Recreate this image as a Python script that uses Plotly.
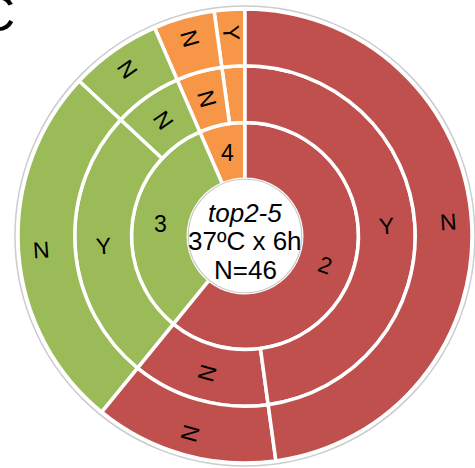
import math
import plotly.graph_objects as go

# ---- data (listed clockwise from 12 o'clock) ----
groups = ["2", "3", "4"]
group_counts = [28, 15, 3]
group_colors = ["#C0504D", "#9BBB59", "#F79646"]

# middle ring (per group): labels and counts
mid_labels = [["Y", "N"], ["Y", "N"], ["N", "Y"]]
mid_counts = [[22, 6], [12, 3], [2, 1]]
mid_show = [[True, True], [True, True], [True, False]]

# outer ring (one child per middle segment)
outer_labels = [["N", "N"], ["N", "N"], ["N", "Y"]]
outer_counts = [[22, 6], [12, 3], [2, 1]]

center_lines = ["<i>top2-5</i>", "37ºC x 6h", "N=46"]
total = sum(group_counts)

# ---- style ----
inner_label_radial = [True, False, False]   # "2" follows the radius, "3"/"4" stay upright
FONT = "Liberation Sans, Arial"
W, H = 475, 468
cx, cy, R = 245, 236, 227
ring_w = R / 4
label_r = [1.5 * ring_w, 2.5 * ring_w, 3.6 * ring_w]

# ---- build hierarchy (plotly lays sectors out counter-clockwise, so reverse) ----
ids, labels, parents, values, colors = [], [], [], [], []
ids.append("root"); labels.append(""); parents.append(""); values.append(total)
colors.append("white")
order = list(range(len(groups)))[::-1]
for gi in order:
    g = groups[gi]
    ids.append(g); labels.append(g); parents.append("root"); values.append(group_counts[gi])
    colors.append(group_colors[gi])
for gi in order:
    g = groups[gi]
    for mi in range(len(mid_labels[gi]))[::-1]:
        mid_id = f"{g}-{mi}"
        ids.append(mid_id); labels.append(mid_labels[gi][mi]); parents.append(g)
        values.append(mid_counts[gi][mi]); colors.append(group_colors[gi])
        ids.append(mid_id + "-o"); labels.append(outer_labels[gi][mi]); parents.append(mid_id)
        values.append(outer_counts[gi][mi]); colors.append(group_colors[gi])

dom_x = [(cx - R) / W, (cx + R) / W]
dom_y = [(H - cy - R) / H, (H - cy + R) / H]

fig = go.Figure(go.Sunburst(
    ids=ids, labels=labels, parents=parents, values=values,
    branchvalues="total", sort=False, rotation=90,
    textinfo="none",
    marker=dict(colors=colors, line=dict(color="white", width=3.5)),
    leaf=dict(opacity=1),
    hoverinfo="none",
    domain=dict(x=dom_x, y=dom_y),
))


def add_label(text, start, count, ring, radial=True):
    """Place a label at the middle of a sector (angles clockwise from 12 o'clock)."""
    mid = (start + count / 2) / total * 360.0
    r = label_r[ring]
    th = math.radians(mid)
    px, py = cx + r * math.sin(th), cy - r * math.cos(th)
    if radial:
        ang = mid - 90 if mid <= 180 else mid - 270
    else:
        ang = 0
    fig.add_annotation(text=text, xref="paper", yref="paper",
                       x=px / W, y=(H - py) / H, xanchor="center", yanchor="middle",
                       showarrow=False, textangle=ang,
                       font=dict(family=FONT, size=23, color="black"))


start = 0
for gi, g in enumerate(groups):
    add_label(g, start, group_counts[gi], 0, inner_label_radial[gi])
    s = start
    for mi in range(len(mid_labels[gi])):
        if mid_show[gi][mi]:
            add_label(mid_labels[gi][mi], s, mid_counts[gi][mi], 1)
        add_label(outer_labels[gi][mi], s, outer_counts[gi][mi], 2)
        s += mid_counts[gi][mi]
    start += group_counts[gi]

# outlines of outer circle and center hole
r_out = R + 3
r_in = ring_w
fig.add_shape(type="circle", xref="paper", yref="paper",
              x0=(cx - r_out) / W, x1=(cx + r_out) / W,
              y0=(H - cy - r_out) / H, y1=(H - cy + r_out) / H,
              line=dict(color="#CCCCCC", width=1.5), layer="above")
fig.add_shape(type="circle", xref="paper", yref="paper",
              x0=(cx - r_in) / W, x1=(cx + r_in) / W,
              y0=(H - cy - r_in) / H, y1=(H - cy + r_in) / H,
              line=dict(color="#C8C8C8", width=1.2), layer="above")

line_gap = 28.5
text_cy = cy + 5
for i, t in enumerate(center_lines):
    yy = text_cy + (i - 1) * line_gap
    fig.add_annotation(text=t, xref="paper", yref="paper",
                       x=cx / W, y=(H - yy) / H, xanchor="center", yanchor="middle",
                       showarrow=False,
                       font=dict(family=FONT, size=26, color="black"))

fig.add_annotation(text="C", xref="paper", yref="paper", x=-3 / W, y=1 - 14 / H,
                   xanchor="center", yanchor="middle", showarrow=False,
                   font=dict(family=FONT, size=50, color="black"))

fig.update_layout(width=W, height=H, margin=dict(l=0, r=0, t=0, b=0),
                  paper_bgcolor="white", showlegend=False)
fig.write_html("out.html", config={"displayModeBar": False},
               post_script="document.body.style.margin='0';document.body.style.overflow='hidden';")
